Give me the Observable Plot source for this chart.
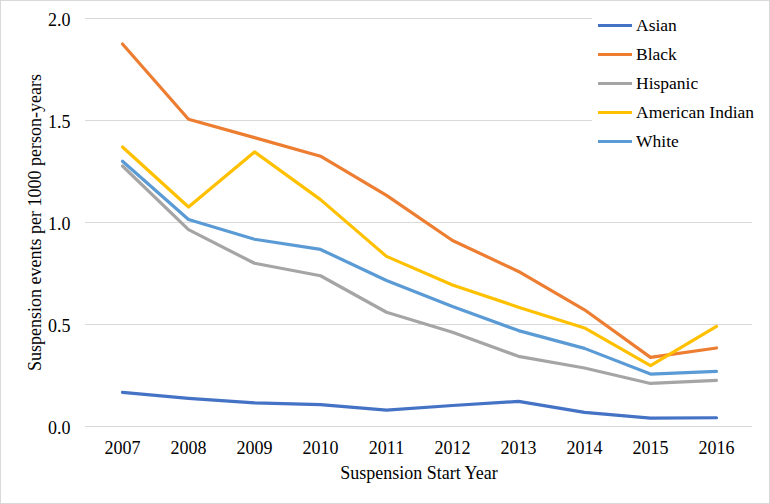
<!DOCTYPE html>
<html><head><meta charset="utf-8">
<script src="https://cdn.jsdelivr.net/npm/d3@7"></script>
<script src="https://cdn.jsdelivr.net/npm/@observablehq/plot@0.6"></script>
<style>
body{margin:0;background:#fff;font-family:'Liberation Serif',serif;}
#wrap{position:relative;width:770px;height:504px;font-family:'Liberation Serif',serif;}
#wrap svg{display:block;outline:1px solid #d9d9d9;outline-offset:-1px;font-family:'Liberation Serif',serif;}
#wrap svg text{font-family:'Liberation Serif',serif;}
#legend{position:absolute;left:592px;top:11px;width:163px;background:#fff;font-size:17.5px;color:#000;font-family:'Liberation Serif',serif;}
.item{display:flex;align-items:center;height:29px;}
.sw{width:34px;height:3.5px;margin-left:6px;margin-right:4px;}
</style></head>
<body><div id="wrap"></div>
<script>
const years = [2007, 2008, 2009, 2010, 2011, 2012, 2013, 2014, 2015, 2016];
const groups = ["Asian", "Black", "Hispanic", "American Indian", "White"];
const colors = ["#4472C4", "#ED7D31", "#A5A5A5", "#FFC000", "#5B9BD5"];
const asian = [0.167, 0.138, 0.116, 0.107, 0.080, 0.103, 0.123, 0.069, 0.041, 0.043];
const black = [1.875, 1.506, 1.416, 1.325, 1.133, 0.912, 0.760, 0.572, 0.339, 0.385];
const hispanic = [1.277, 0.965, 0.800, 0.739, 0.560, 0.462, 0.344, 0.287, 0.211, 0.226];
const americanIndian = [1.370, 1.076, 1.346, 1.112, 0.834, 0.694, 0.585, 0.483, 0.298, 0.491];
const white = [1.300, 1.015, 0.918, 0.868, 0.716, 0.588, 0.470, 0.383, 0.257, 0.270];
const yTicks = [0, 0.5, 1.0, 1.5, 2.0];
const xTitle = "Suspension Start Year";
const yTitle = "Suspension events per 1000 person-years";

const series = [asian, black, hispanic, americanIndian, white];
const rows = [];
groups.forEach((g, i) => years.forEach((yr, j) => rows.push({group: g, year: yr, value: series[i][j]})));

const font = "'Liberation Serif', serif";
const chart = Plot.plot({
  width: 770, height: 504,
  marginLeft: 85, marginRight: 18, marginTop: 18, marginBottom: 78,
  style: {fontFamily: font, fontSize: "18px", color: "#000", background: "#fff"},
  x: {type: "point", domain: years, padding: 0.5},
  y: {domain: [0, 2]},
  color: {domain: groups, range: colors},
  marks: [
    Plot.gridY(yTicks, {stroke: "#d9d9d9", strokeOpacity: 1, strokeWidth: 1}),
    Plot.axisY(yTicks, {tickSize: 0, tickPadding: 15, dy: 2, tickFormat: d3.format(".1f"), label: null, fontSize: 18}),
    Plot.axisX(years, {tickSize: 0, tickPadding: 15, tickFormat: d => String(d), label: null, fontSize: 18}),
    Plot.line(rows, {x: "year", y: "value", z: "group", stroke: "group", strokeWidth: 3.2, strokeLinejoin: "round", strokeLinecap: "round"}),
    Plot.text([xTitle], {frameAnchor: "bottom", lineAnchor: "bottom", dy: 52, fontSize: 18}),
    Plot.text([yTitle], {frameAnchor: "left", textAnchor: "middle", rotate: -90, dx: -50, fontSize: 18})
  ]
});
chart.setAttribute("font-family", font);
chart.querySelectorAll("g").forEach(g => { if (g.getAttribute("font-family")) g.setAttribute("font-family", font); });
const wrap = document.getElementById("wrap");
wrap.appendChild(chart);
const legend = document.createElement("div");
legend.id = "legend";
groups.forEach((g, i) => {
  const it = document.createElement("div");
  it.className = "item";
  it.innerHTML = `<span class="sw" style="background:${colors[i]}"></span><span>${g}</span>`;
  legend.appendChild(it);
});
wrap.appendChild(legend);
</script></body></html>
